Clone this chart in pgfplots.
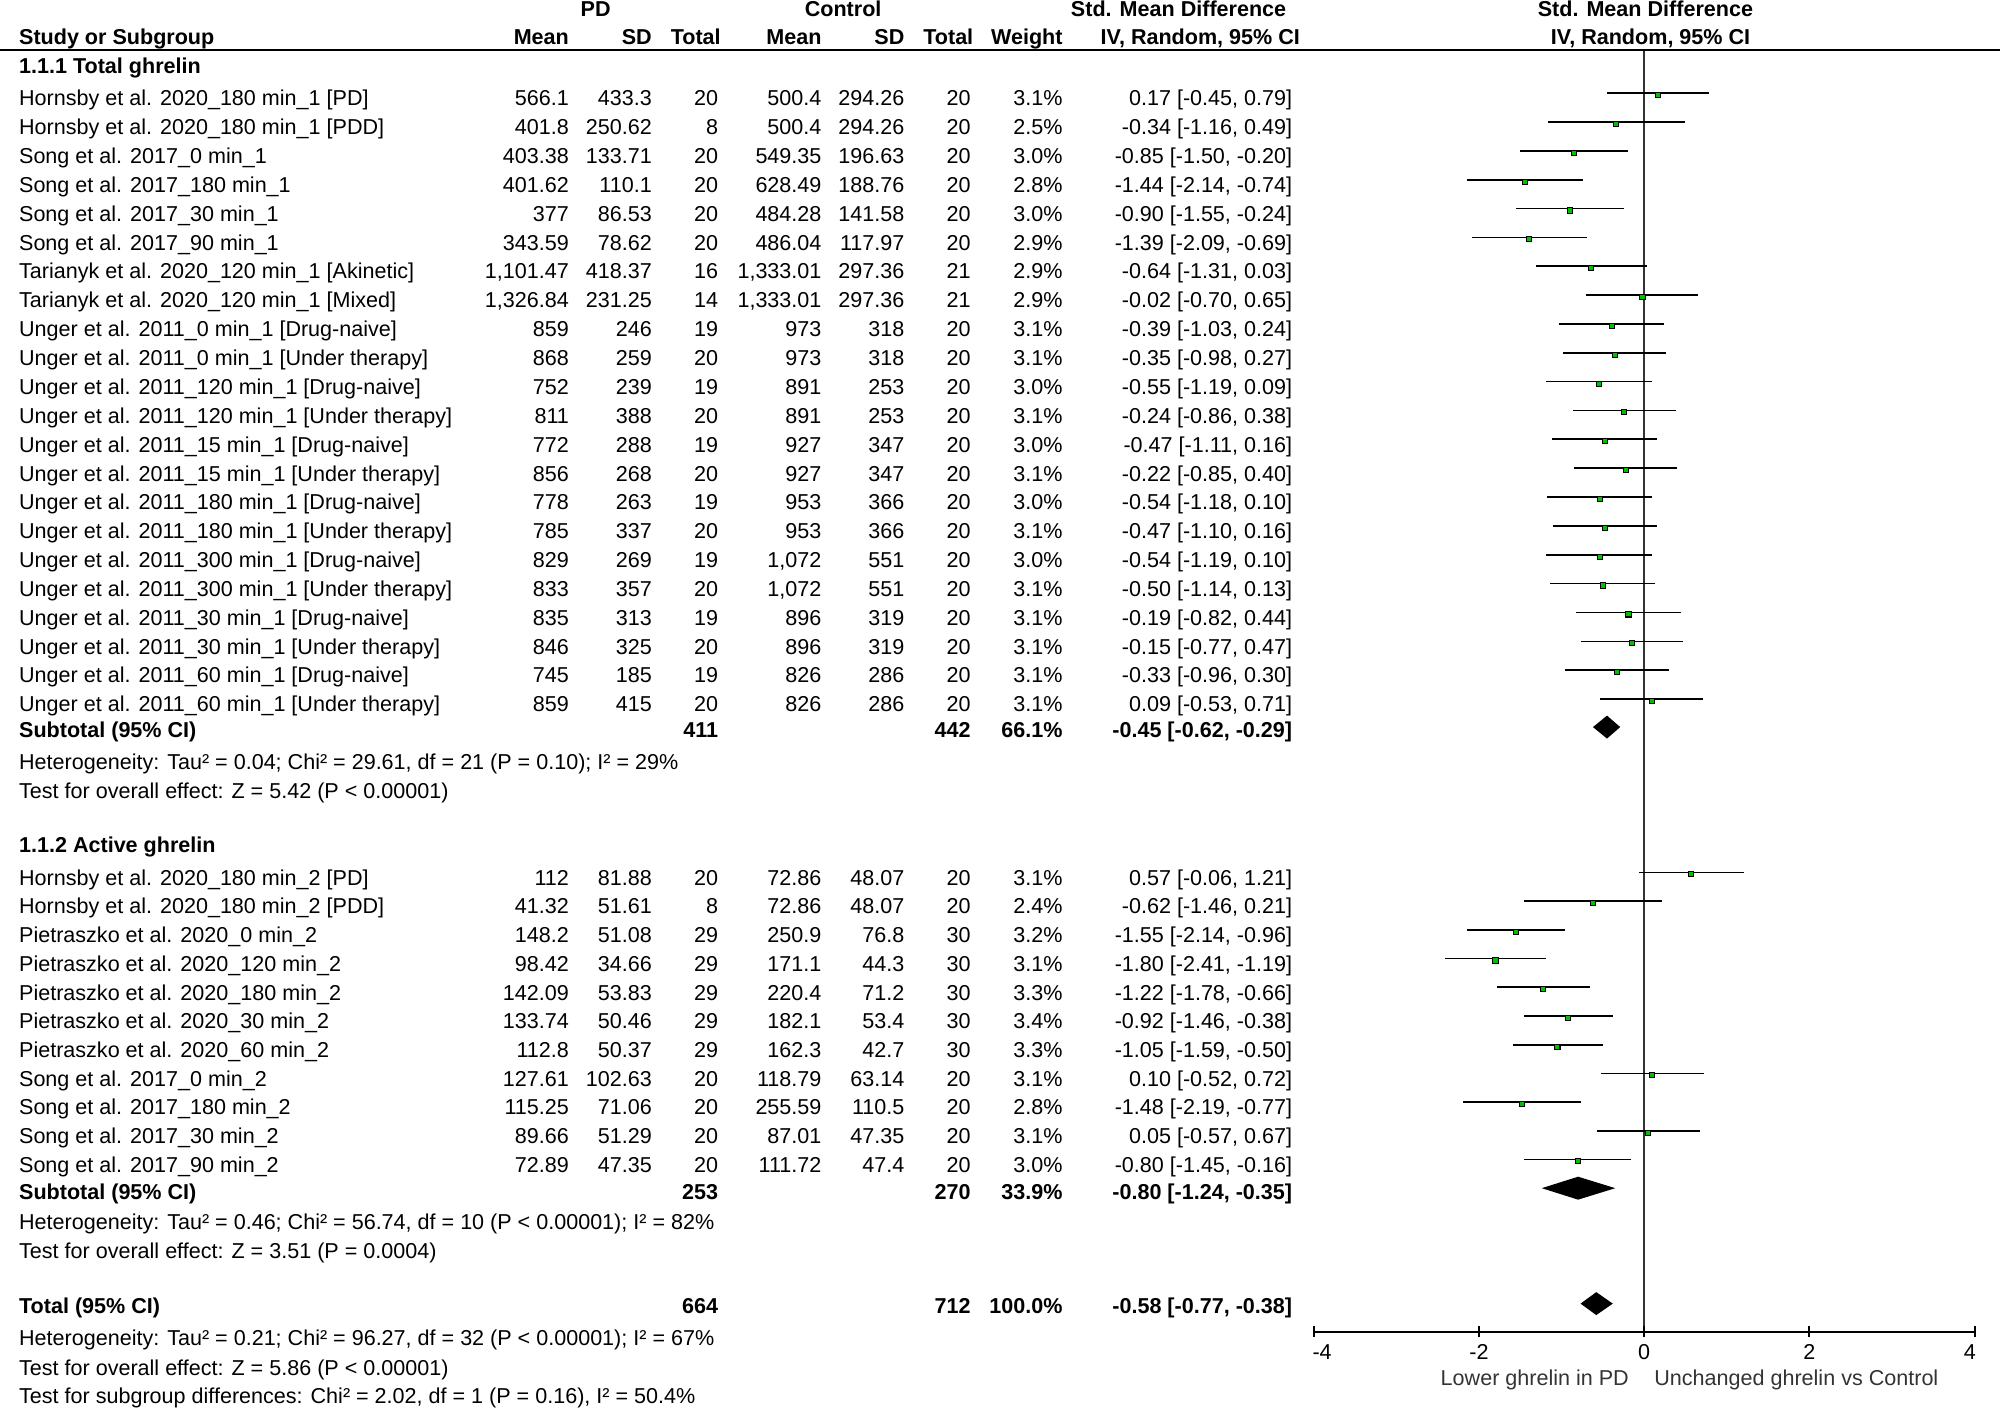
\documentclass[border=0pt]{standalone}
\usepackage{fontspec}
\setmainfont{Liberation Sans}
\usepackage{pgfplots}
\pgfplotsset{compat=1.18}
\usepackage{pgfplotstable}

\definecolor{boxgreen}{RGB}{0,192,0}
\definecolor{zline}{gray}{0.2}
\newcommand\fs{\fontsize{8.45pt}{10pt}\selectfont}

% y = row position in a 1568 x 1104 frame (px from top), smd with its 95% CI
\pgfplotstableread{
y     smd   lo    hi
77    0.17 -0.45  0.79
99.6 -0.34 -1.16  0.49
122.2 -0.85 -1.50 -0.20
144.9 -1.44 -2.14 -0.74
167.5 -0.90 -1.55 -0.24
190.1 -1.39 -2.09 -0.69
212.7 -0.64 -1.31  0.03
235.3 -0.02 -0.70  0.65
258.0 -0.39 -1.03  0.24
280.6 -0.35 -0.98  0.27
303.2 -0.55 -1.19  0.09
325.8 -0.24 -0.86  0.38
348.4 -0.47 -1.11  0.16
371.1 -0.22 -0.85  0.40
393.7 -0.54 -1.18  0.10
416.3 -0.47 -1.10  0.16
438.9 -0.54 -1.19  0.10
461.5 -0.50 -1.14  0.13
484.2 -0.19 -0.82  0.44
506.8 -0.15 -0.77  0.47
529.4 -0.33 -0.96  0.30
552.0  0.09 -0.53  0.71
688    0.57 -0.06  1.21
710.5 -0.62 -1.46  0.21
733   -1.55 -2.14 -0.96
755.5 -1.80 -2.41 -1.19
778   -1.22 -1.78 -0.66
800.5 -0.92 -1.46 -0.38
823   -1.05 -1.59 -0.50
845.5  0.10 -0.52  0.72
868   -1.48 -2.19 -0.77
890.5  0.05 -0.57  0.67
913   -0.80 -1.45 -0.16
}\studies

% one table row: y, name, PD mean/sd/n, control mean/sd/n, weight, then CI text
\newcommand\srow[9]{%
  \node[anchor=base west] at (15,#1+6) {#2};
  \node[anchor=base east] at (446,#1+6) {#3};
  \node[anchor=base east] at (511,#1+6) {#4};
  \node[anchor=base east] at (563,#1+6) {#5};
  \node[anchor=base east] at (644,#1+6) {#6};
  \node[anchor=base east] at (709,#1+6) {#7};
  \node[anchor=base east] at (761,#1+6) {#8};
  \node[anchor=base east] at (833,#1+6) {#9};
  \srowci{#1}}
\newcommand\srowci[2]{\node[anchor=base east] at (1013,#1+6) {#2};}
\newcommand\ltext[2]{\node[anchor=base west] at (15,#1+6) {#2};}

\begin{document}
\begin{tikzpicture}
\path[use as bounding box] (0,0) rectangle (784pt,-552pt);

\begin{axis}[
    at={(0pt,-552pt)}, anchor=south west,
    scale only axis, width=784pt, height=552pt,
    xmin=-19.9073, xmax=4.3089,
    ymin=0, ymax=1104, y dir=reverse,
    hide axis, clip=false,
]
% line of no effect and the scale
\draw[zline, line width=0.8pt] (axis cs:0,39) -- (axis cs:0,1044);
\draw[black, line width=0.8pt] (axis cs:-4,1044) -- (axis cs:4,1044);
\pgfplotsinvokeforeach{-4,-2,0,2,4}{
  \draw[black, line width=0.8pt] (axis cs:#1,1039.5) -- (axis cs:#1,1048.5);
}

% confidence intervals (no line, no marks: only the bars)
\addplot[draw=none, mark=none,
    error bars/.cd, x dir=both, x explicit, error mark=none,
    error bar style={draw=black, line width=0.65pt}]
  table[x=smd, y expr=\thisrow{y}-4,
        x error plus expr=\thisrow{hi}-\thisrow{smd},
        x error minus expr=\thisrow{smd}-\thisrow{lo}] {\studies};

% point estimates
\addplot[only marks, mark=square*, mark size=1pt,
    mark options={draw=none, fill=boxgreen}]
  table[x=smd, y expr=\thisrow{y}-2.5] {\studies};

% pooled estimates
\addplot[fill=black, draw=none] coordinates {(-0.62,570) (-0.45,561) (-0.29,570) (-0.45,579)} -- cycle;
\addplot[fill=black, draw=none] coordinates {(-1.24,931.5) (-0.80,922.5) (-0.35,931.5) (-0.80,940.5)} -- cycle;
\addplot[fill=black, draw=none] coordinates {(-0.77,1022) (-0.58,1013) (-0.38,1022) (-0.58,1031)} -- cycle;
\end{axis}

\begin{scope}[x=0.5pt, y=-0.5pt, every node/.style={inner sep=0pt, outer sep=0pt, font=\fs}]
\draw[black, line width=0.9pt] (0,39) -- (1568,39);

% header
\begin{scope}[every node/.append style={font=\fs\bfseries}]
\node[anchor=base] at (467,13) {PD};
\node[anchor=base] at (661,13) {Control};
\node[anchor=base] at (924,13) {Std. Mean Difference};
\node[anchor=base] at (1290,13) {Std. Mean Difference};
\node[anchor=base west] at (15,35) {Study or Subgroup};
\node[anchor=base east] at (446,35) {Mean};
\node[anchor=base east] at (511,35) {SD};
\node[anchor=base east] at (565,35) {Total};
\node[anchor=base east] at (644,35) {Mean};
\node[anchor=base east] at (709,35) {SD};
\node[anchor=base east] at (763,35) {Total};
\node[anchor=base east] at (833,35) {Weight};
\node[anchor=base] at (941,35) {IV, Random, 95\% CI};
\node[anchor=base] at (1294,35) {IV, Random, 95\% CI};
\end{scope}

\ltext{52}{\bfseries 1.1.1 Total ghrelin}
\srow{77}{Hornsby et al. 2020\_180 min\_1 [PD]}{566.1}{433.3}{20}{500.4}{294.26}{20}{3.1\%}{0.17 [-0.45, 0.79]}
\srow{99.6}{Hornsby et al. 2020\_180 min\_1 [PDD]}{401.8}{250.62}{8}{500.4}{294.26}{20}{2.5\%}{-0.34 [-1.16, 0.49]}
\srow{122.2}{Song et al. 2017\_0 min\_1}{403.38}{133.71}{20}{549.35}{196.63}{20}{3.0\%}{-0.85 [-1.50, -0.20]}
\srow{144.9}{Song et al. 2017\_180 min\_1}{401.62}{110.1}{20}{628.49}{188.76}{20}{2.8\%}{-1.44 [-2.14, -0.74]}
\srow{167.5}{Song et al. 2017\_30 min\_1}{377}{86.53}{20}{484.28}{141.58}{20}{3.0\%}{-0.90 [-1.55, -0.24]}
\srow{190.1}{Song et al. 2017\_90 min\_1}{343.59}{78.62}{20}{486.04}{117.97}{20}{2.9\%}{-1.39 [-2.09, -0.69]}
\srow{212.7}{Tarianyk et al. 2020\_120 min\_1 [Akinetic]}{1,101.47}{418.37}{16}{1,333.01}{297.36}{21}{2.9\%}{-0.64 [-1.31, 0.03]}
\srow{235.3}{Tarianyk et al. 2020\_120 min\_1 [Mixed]}{1,326.84}{231.25}{14}{1,333.01}{297.36}{21}{2.9\%}{-0.02 [-0.70, 0.65]}
\srow{258.0}{Unger et al. 2011\_0 min\_1 [Drug-naive]}{859}{246}{19}{973}{318}{20}{3.1\%}{-0.39 [-1.03, 0.24]}
\srow{280.6}{Unger et al. 2011\_0 min\_1 [Under therapy]}{868}{259}{20}{973}{318}{20}{3.1\%}{-0.35 [-0.98, 0.27]}
\srow{303.2}{Unger et al. 2011\_120 min\_1 [Drug-naive]}{752}{239}{19}{891}{253}{20}{3.0\%}{-0.55 [-1.19, 0.09]}
\srow{325.8}{Unger et al. 2011\_120 min\_1 [Under therapy]}{811}{388}{20}{891}{253}{20}{3.1\%}{-0.24 [-0.86, 0.38]}
\srow{348.4}{Unger et al. 2011\_15 min\_1 [Drug-naive]}{772}{288}{19}{927}{347}{20}{3.0\%}{-0.47 [-1.11, 0.16]}
\srow{371.1}{Unger et al. 2011\_15 min\_1 [Under therapy]}{856}{268}{20}{927}{347}{20}{3.1\%}{-0.22 [-0.85, 0.40]}
\srow{393.7}{Unger et al. 2011\_180 min\_1 [Drug-naive]}{778}{263}{19}{953}{366}{20}{3.0\%}{-0.54 [-1.18, 0.10]}
\srow{416.3}{Unger et al. 2011\_180 min\_1 [Under therapy]}{785}{337}{20}{953}{366}{20}{3.1\%}{-0.47 [-1.10, 0.16]}
\srow{438.9}{Unger et al. 2011\_300 min\_1 [Drug-naive]}{829}{269}{19}{1,072}{551}{20}{3.0\%}{-0.54 [-1.19, 0.10]}
\srow{461.5}{Unger et al. 2011\_300 min\_1 [Under therapy]}{833}{357}{20}{1,072}{551}{20}{3.1\%}{-0.50 [-1.14, 0.13]}
\srow{484.2}{Unger et al. 2011\_30 min\_1 [Drug-naive]}{835}{313}{19}{896}{319}{20}{3.1\%}{-0.19 [-0.82, 0.44]}
\srow{506.8}{Unger et al. 2011\_30 min\_1 [Under therapy]}{846}{325}{20}{896}{319}{20}{3.1\%}{-0.15 [-0.77, 0.47]}
\srow{529.4}{Unger et al. 2011\_60 min\_1 [Drug-naive]}{745}{185}{19}{826}{286}{20}{3.1\%}{-0.33 [-0.96, 0.30]}
\srow{552.0}{Unger et al. 2011\_60 min\_1 [Under therapy]}{859}{415}{20}{826}{286}{20}{3.1\%}{0.09 [-0.53, 0.71]}
\srow{572}{\bfseries Subtotal (95\% CI)}{}{}{\bfseries 411}{}{}{\bfseries 442}{\bfseries 66.1\%}{\bfseries -0.45 [-0.62, -0.29]}
\ltext{597}{Heterogeneity: Tau² = 0.04; Chi² = 29.61, df = 21 (P = 0.10); I² = 29\%}
\ltext{620}{Test for overall effect: Z = 5.42 (P < 0.00001)}

\ltext{662}{\bfseries 1.1.2 Active ghrelin}
\srow{688}{Hornsby et al. 2020\_180 min\_2 [PD]}{112}{81.88}{20}{72.86}{48.07}{20}{3.1\%}{0.57 [-0.06, 1.21]}
\srow{710.5}{Hornsby et al. 2020\_180 min\_2 [PDD]}{41.32}{51.61}{8}{72.86}{48.07}{20}{2.4\%}{-0.62 [-1.46, 0.21]}
\srow{733}{Pietraszko et al. 2020\_0 min\_2}{148.2}{51.08}{29}{250.9}{76.8}{30}{3.2\%}{-1.55 [-2.14, -0.96]}
\srow{755.5}{Pietraszko et al. 2020\_120 min\_2}{98.42}{34.66}{29}{171.1}{44.3}{30}{3.1\%}{-1.80 [-2.41, -1.19]}
\srow{778}{Pietraszko et al. 2020\_180 min\_2}{142.09}{53.83}{29}{220.4}{71.2}{30}{3.3\%}{-1.22 [-1.78, -0.66]}
\srow{800.5}{Pietraszko et al. 2020\_30 min\_2}{133.74}{50.46}{29}{182.1}{53.4}{30}{3.4\%}{-0.92 [-1.46, -0.38]}
\srow{823}{Pietraszko et al. 2020\_60 min\_2}{112.8}{50.37}{29}{162.3}{42.7}{30}{3.3\%}{-1.05 [-1.59, -0.50]}
\srow{845.5}{Song et al. 2017\_0 min\_2}{127.61}{102.63}{20}{118.79}{63.14}{20}{3.1\%}{0.10 [-0.52, 0.72]}
\srow{868}{Song et al. 2017\_180 min\_2}{115.25}{71.06}{20}{255.59}{110.5}{20}{2.8\%}{-1.48 [-2.19, -0.77]}
\srow{890.5}{Song et al. 2017\_30 min\_2}{89.66}{51.29}{20}{87.01}{47.35}{20}{3.1\%}{0.05 [-0.57, 0.67]}
\srow{913}{Song et al. 2017\_90 min\_2}{72.89}{47.35}{20}{111.72}{47.4}{20}{3.0\%}{-0.80 [-1.45, -0.16]}
\srow{934}{\bfseries Subtotal (95\% CI)}{}{}{\bfseries 253}{}{}{\bfseries 270}{\bfseries 33.9\%}{\bfseries -0.80 [-1.24, -0.35]}
\ltext{958}{Heterogeneity: Tau² = 0.46; Chi² = 56.74, df = 10 (P < 0.00001); I² = 82\%}
\ltext{981}{Test for overall effect: Z = 3.51 (P = 0.0004)}

\srow{1024}{\bfseries Total (95\% CI)}{}{}{\bfseries 664}{}{}{\bfseries 712}{\bfseries 100.0\%}{\bfseries -0.58 [-0.77, -0.38]}
\ltext{1049}{Heterogeneity: Tau² = 0.21; Chi² = 96.27, df = 32 (P < 0.00001); I² = 67\%}
\ltext{1072}{Test for overall effect: Z = 5.86 (P < 0.00001)}
\ltext{1094}{Test for subgroup differences: Chi² = 2.02, df = 1 (P = 0.16), I² = 50.4\%}

% scale labels
\node[anchor=base west] at (1029,1066) {-4};
\node[anchor=base] at (1159.5,1066) {-2};
\node[anchor=base] at (1289,1066) {0};
\node[anchor=base] at (1418.5,1066) {2};
\node[anchor=base east] at (1549,1066) {4};
\node[anchor=base east, text=black!80] at (1277,1086) {Lower ghrelin in PD};
\node[anchor=base west, text=black!80] at (1297,1086) {Unchanged ghrelin vs Control};
\end{scope}
\end{tikzpicture}
\end{document}
